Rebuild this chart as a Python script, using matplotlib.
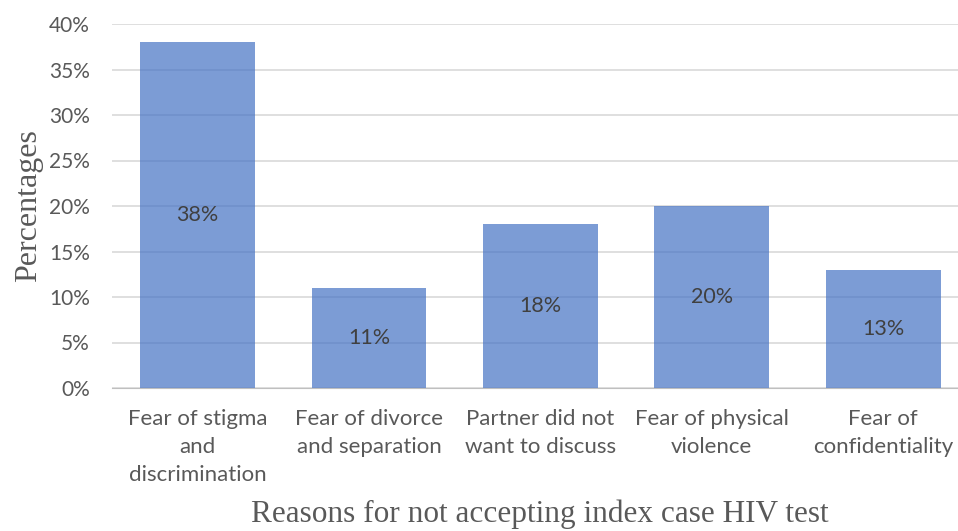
import matplotlib.pyplot as plt
from matplotlib.ticker import PercentFormatter

# Data
reasons = ['Fear of stigma\nand\ndiscrimination', 'Fear of divorce\nand separation',
           'Partner did not\nwant to discuss', 'Fear of physical\nviolence',
           'Fear of\nconfidentiality']
percent = [38, 11, 18, 20, 13]
y_ticks = [0, 5, 10, 15, 20, 25, 30, 35, 40]

plt.rcParams['font.family'] = ['Lato', 'DejaVu Sans']
text_col = '#595959'

fig = plt.figure(figsize=(9.58, 5.31), dpi=100)
ax = fig.add_axes([112 / 958, 1 - 388 / 531, (958 - 112) / 958, (388 - 24) / 531])

x = list(range(len(reasons)))
bars = ax.bar(x, percent, width=0.67, color='#4472C4', alpha=0.7, zorder=2)

for b, v in zip(bars, percent):
    ax.text(b.get_x() + b.get_width() / 2, v / 2, f'{v}%', ha='center', va='center',
            fontsize=15.5, color='#404040', zorder=3)

ax.set_ylim(0, 40)
ax.set_yticks(y_ticks)
ax.yaxis.set_major_formatter(PercentFormatter(decimals=0))
ax.set_xlim(-0.499, 4.437)
ax.set_xticks(x)
ax.set_xticklabels(reasons, fontsize=16, color=text_col, linespacing=1.5)
ax.tick_params(axis='y', labelsize=15, labelcolor=text_col, length=0, pad=16)
ax.tick_params(axis='x', length=0, pad=15)

ax.grid(axis='y', color='#D9D9D9', linewidth=1.2, zorder=0)
ax.set_axisbelow(True)
for s in ['top', 'right', 'left']:
    ax.spines[s].set_visible(False)
ax.spines['bottom'].set_color('#BFBFBF')
ax.spines['bottom'].set_zorder(3)

fig.text(29 / 958, 1 - 206 / 531, 'Percentages', rotation=90, ha='center', va='center',
         fontsize=23, family='Liberation Serif', color=text_col)
fig.text(540 / 958, 2 / 531, 'Reasons for not accepting index case HIV test',
         ha='center', va='bottom', fontsize=22.5, family='Liberation Serif', color=text_col)

fig.savefig('out.png', dpi=100)
